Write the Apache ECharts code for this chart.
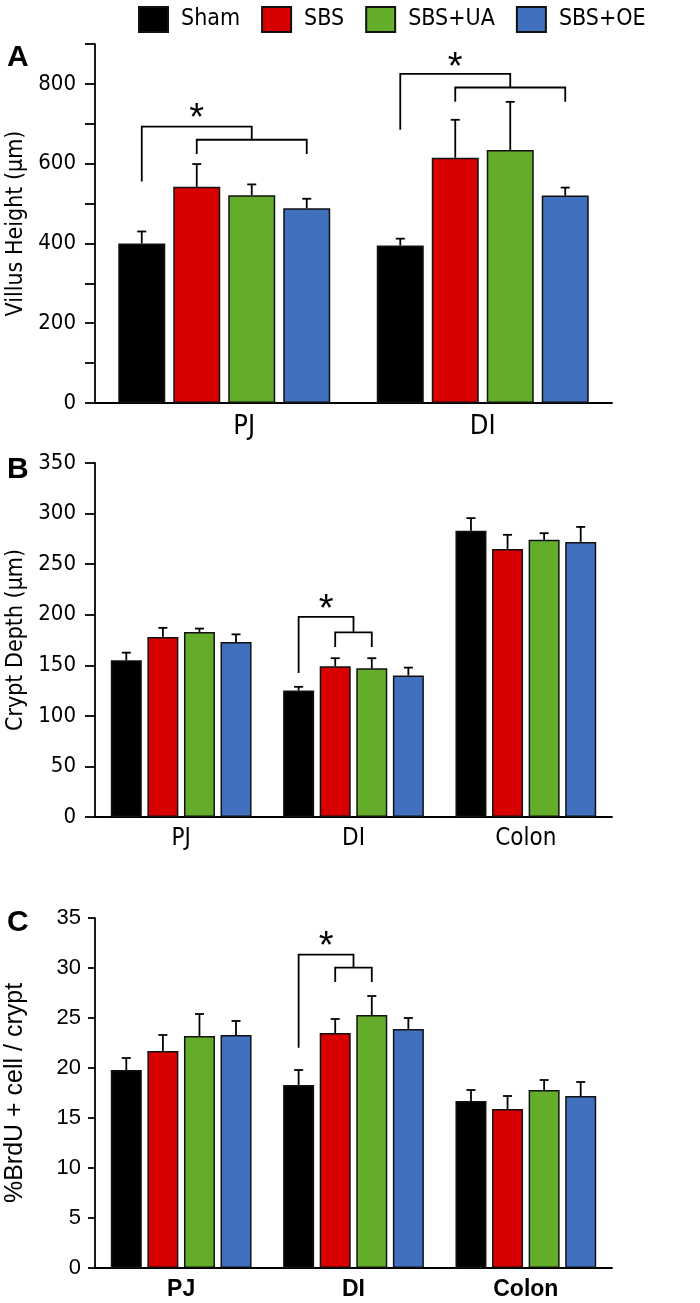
<!DOCTYPE html>
<html>
<head>
<meta charset="utf-8">
<script src="https://cdn.jsdelivr.net/npm/echarts@6/dist/echarts.min.js"></script>
<style>html,body{margin:0;padding:0;background:#fff}#c{width:700px;height:1303px}</style>
</head>
<body>
<div id="c"></div>
<script>
// ---------- data ----------
const groups = ['Sham', 'SBS', 'SBS+UA', 'SBS+OE'];
const catsA = ['PJ', 'DI'];
const catsB = ['PJ', 'DI', 'Colon'];
const catsC = ['PJ', 'DI', 'Colon'];

// Villus height (µm): rows = groups, columns = categories
const villusMean = [[400, 395], [542, 615], [521, 634], [488, 520]];
const villusErr  = [[30, 17],   [57, 95],   [27, 121],  [24, 20]];

// Crypt depth (µm)
const cryptMean = [[155, 125, 283], [178, 149, 265], [183, 147, 274], [173, 140, 272]];
const cryptErr  = [[7.5, 3.7, 12.5], [9, 8, 14], [3.3, 10, 6.6], [7.6, 7.7, 14.8]];

// %BrdU + cell / crypt
const brduMean = [[19.8, 18.3, 16.7], [21.7, 23.5, 15.9], [23.2, 25.3, 17.8], [23.3, 23.9, 17.2]];
const brduErr  = [[1.2, 1.5, 1.1], [1.6, 1.4, 1.3], [2.2, 1.9, 1.0], [1.4, 1.1, 1.4]];

// significance brackets: [category, outerTop, outerDrop, innerTop, innerDrop, star, innerRightBar]
const bracketsA = [[0, 693, 555, 660, 624, 730, 3], [1, 825, 685, 791, 755, 859, 3]];
const bracketsB = [[1, 197.8, 142.4, 182.6, 168.1, 211.6, 2]];
const bracketsC = [[1, 31.33, 22.03, 30.03, 28.6, 32.8, 2]];

const yTicksA = {min: 0, max: 900, interval: 100};
const yTicksB = {min: 0, max: 350, interval: 50};
const yTicksC = {min: 0, max: 35, interval: 5};

// ---------- style ----------
const colors = ['#000000', '#d90000', '#63ad2b', '#4070be'];
const NARROW = "'Liberation Sans Narrow', 'Arial Narrow', 'DejaVu Sans Condensed', sans-serif";
const SANS = "'Liberation Sans', Arial, sans-serif";
const panels = [
  {cats: catsA, mean: villusMean, err: villusErr, br: bracketsA, ticks: yTicksA, top: 44, height: 359,
   barW: 47, gap: 0.17, name: 'Villus Height (μm)', font: NARROW, tickSize: 22, catSize: 27, catWeight: 'normal',
   nameSize: 23, nameGap: 66, tickLen: 10, labelMargin: 19, fmt: v => (v % 200 === 0 ? String(v) : ''),
   catFmt: (v, i) => (i === 0 ? '{s|' + v + '}' : v)},
  {cats: catsB, mean: cryptMean, err: cryptErr, br: bracketsB, ticks: yTicksB, top: 463, height: 354,
   barW: 31, gap: 0.18, name: 'Crypt Depth (μm)', font: NARROW, tickSize: 22, catSize: 24, catWeight: 'normal',
   nameSize: 23, nameGap: 66, tickLen: 10, labelMargin: 19, fmt: v => String(v), catFmt: v => v},
  {cats: catsC, mean: brduMean, err: brduErr, br: bracketsC, ticks: yTicksC, top: 918, height: 350,
   barW: 31, gap: 0.18, name: '%BrdU + cell / crypt', font: SANS, tickSize: 22, catSize: 23, catWeight: 'bold',
   nameSize: 25, nameGap: 67, tickLen: 7, labelMargin: 14, fmt: v => String(v), catFmt: v => v}
];

const grid = [], xAxis = [], yAxis = [], series = [];
panels.forEach((p, pi) => {
  grid.push({left: 95, width: 517, top: p.top, height: p.height, containLabel: false, outerBoundsMode: 'none'});
  xAxis.push({
    type: 'category', gridIndex: pi, data: p.cats,
    axisLine: {lineStyle: {color: '#000', width: 1.8}},
    axisTick: {show: false},
    axisLabel: {color: '#000', fontFamily: p.font, fontSize: p.catSize, fontWeight: p.catWeight, margin: 10,
      formatter: p.catFmt,
      rich: {s: {fontFamily: p.font, fontSize: p.catSize, color: '#000', padding: [0, 0, 0, 40]}}}
  });
  yAxis.push({
    type: 'value', gridIndex: pi, min: p.ticks.min, max: p.ticks.max, interval: p.ticks.interval,
    name: p.name, nameLocation: 'middle', nameGap: p.nameGap,
    nameTextStyle: {color: '#000', fontFamily: p.font, fontSize: p.nameSize},
    axisLine: {show: true, lineStyle: {color: '#000', width: 1.8}},
    axisTick: {show: true, length: p.tickLen, lineStyle: {color: '#000', width: 1.8}},
    splitLine: {show: false},
    axisLabel: {color: '#000', fontFamily: p.font, fontSize: p.tickSize, margin: p.labelMargin, formatter: p.fmt}
  });
  const pitch = p.barW * (1 + p.gap);
  groups.forEach((g, gi) => {
    series.push({
      type: 'bar', name: g, xAxisIndex: pi, yAxisIndex: pi, data: p.mean[gi],
      barWidth: p.barW, barGap: Math.round(p.gap * 100) + '%',
      itemStyle: {color: colors[gi], borderColor: '#111', borderWidth: 1.5},
      emphasis: {disabled: true}, z: 2
    });
    series.push({
      type: 'custom', name: g + ' err', xAxisIndex: pi, yAxisIndex: pi, z: 3, silent: true,
      data: p.cats.map((c, ci) => [ci, p.mean[gi][ci], p.err[gi][ci]]),
      renderItem: (params, api) => {
        const ci = api.value(0), m = api.value(1), e = api.value(2);
        const b = api.coord([ci, m]);
        const x = b[0] + (gi - 1.5) * pitch;
        const y1 = api.coord([ci, m + e])[1];
        const st = {stroke: '#000', lineWidth: 1.8};
        return {type: 'group', children: [
          {type: 'line', shape: {x1: x, y1: b[1], x2: x, y2: y1}, style: st},
          {type: 'line', shape: {x1: x - 4.5, y1: y1, x2: x + 4.5, y2: y1}, style: st}
        ]};
      }
    });
  });
  series.push({
    type: 'custom', name: 'brackets' + pi, xAxisIndex: pi, yAxisIndex: pi, z: 4, silent: true,
    data: p.br,
    renderItem: (params, api) => {
      const ci = api.value(0);
      const cx = api.coord([ci, 0])[0];
      const bx = k => cx + (k - 1.5) * pitch;
      const yy = v => api.coord([ci, v])[1];
      const rb = api.value(6);
      const xl = bx(0), xi1 = bx(1), xi2 = bx(rb), xm = (xi1 + xi2) / 2;
      const st = {stroke: '#000', lineWidth: 1.8, fill: null};
      const yTop = yy(api.value(1)), yDrop = yy(api.value(2)), yIn = yy(api.value(3)), yInD = yy(api.value(4));
      return {type: 'group', children: [
        {type: 'polyline', shape: {points: [[xl, yDrop], [xl, yTop], [xm, yTop], [xm, yIn]]}, style: st},
        {type: 'polyline', shape: {points: [[xi1, yInD], [xi1, yIn], [xi2, yIn], [xi2, yInD]]}, style: st},
        {type: 'text', x: (xl + xm) / 2, y: yy(api.value(5)) + 8,
         style: {text: '*', fill: '#000', font: '38px ' + SANS, align: 'center', verticalAlign: 'middle'}}
      ]};
    }
  });
});

const chart = echarts.init(document.getElementById('c'), null, {renderer: 'canvas'});
chart.setOption({
  animation: false,
  backgroundColor: '#fff',
  title: [
    {text: 'A', left: 2, top: 38, textStyle: {fontFamily: SANS, fontWeight: 'bold', fontSize: 30, color: '#000'}},
    {text: 'B', left: 2, top: 450, textStyle: {fontFamily: SANS, fontWeight: 'bold', fontSize: 30, color: '#000'}},
    {text: 'C', left: 2, top: 903, textStyle: {fontFamily: SANS, fontWeight: 'bold', fontSize: 30, color: '#000'}}
  ],
  legend: {
    data: groups, left: 133, top: 1, itemWidth: 29, itemHeight: 25, itemGap: 21, icon: 'rect',
    selectedMode: false,
    textStyle: {fontFamily: NARROW, fontSize: 23, color: '#000', padding: [0, 0, 0, 8]}
  },
  grid, xAxis, yAxis, series
});
</script>
</body>
</html>
